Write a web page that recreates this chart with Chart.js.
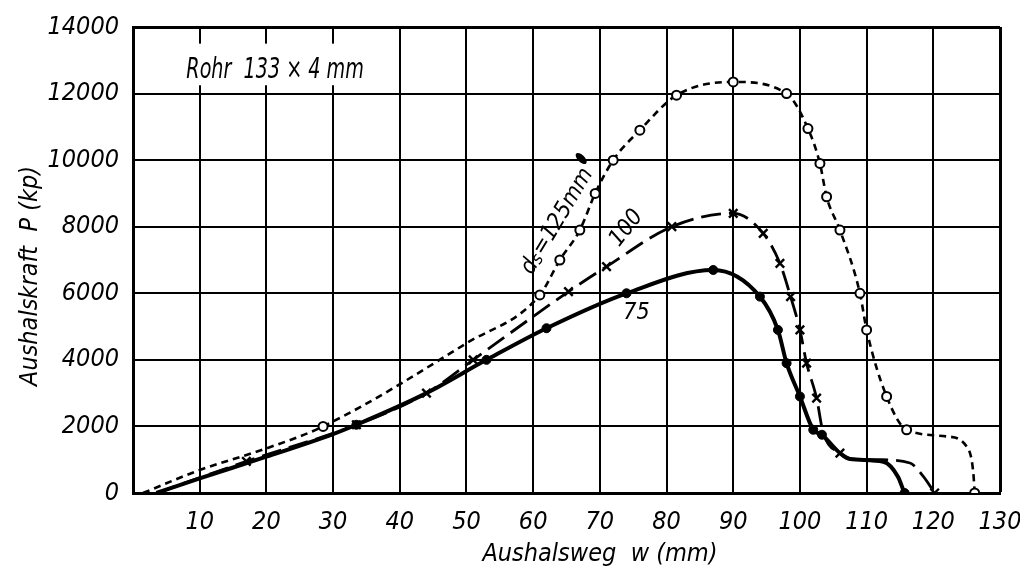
<!DOCTYPE html>
<html>
<head>
<meta charset="utf-8">
<script src="https://cdn.jsdelivr.net/npm/chart.js@4.4.0/dist/chart.umd.min.js"></script>
<style>
    html, body { margin: 0; padding: 0; background: #fff; }
</style>
</head>
<body>
<canvas id="chart" width="1020" height="575"></canvas>
<script>
// Aushalskraft P (kp) over Aushalsweg w (mm)
const w125 = [1.5, 10, 20, 28.5, 50, 61, 64, 67, 69.3, 72, 76, 81.5, 90, 98, 101.2, 103, 104, 106, 109, 110, 113, 116, 122, 125.3, 126, 126.2];
const p125 = [0, 690, 1340, 2000, 4500, 5950, 7000, 7900, 9000, 10000, 10900, 11950, 12350, 12000, 10950, 9900, 8900, 7900, 6000, 4900, 2900, 1900, 1700, 1300, 600, 0];
const m125 = [0, 0, 0, 1, 0, 1, 1, 1, 1, 1, 1, 1, 1, 1, 1, 1, 1, 1, 1, 1, 1, 1, 0, 0, 0, 1];

const w100 = [3.5, 17, 33.5, 44, 51, 65.3, 71, 80.8, 90, 94.5, 97, 98.6, 100, 101, 102.5, 103.5, 106, 108, 112, 116.5, 118.5, 120.2];
const p100 = [0, 950, 2050, 3000, 4000, 6050, 6800, 8000, 8400, 7800, 6900, 5900, 4900, 3900, 2850, 1800, 1200, 1020, 1000, 900, 500, 0];
const m100 = [0, 1, 1, 1, 1, 1, 1, 1, 1, 1, 1, 1, 1, 1, 1, 0, 1, 0, 0, 0, 0, 1];

const w75 = [3.5, 10, 20, 30, 33.5, 44, 53, 62, 74, 87, 94, 96.7, 98, 100, 102, 103.3, 106, 107.5, 112.5, 114.7, 115.5, 115.7];
const p75 = [0, 440, 1090, 1770, 2050, 3000, 4000, 4950, 6000, 6700, 5900, 4900, 3900, 2900, 1900, 1750, 1200, 1020, 940, 490, 90, 0];
const m75 = [0, 0, 0, 0, 1, 0, 1, 1, 1, 1, 1, 1, 1, 1, 1, 1, 0, 0, 0, 0, 0, 1];

const xMax = 130;
const yMax = 14000;

const FONT = "'DejaVu Sans Condensed', 'DejaVu Sans', sans-serif";

function toPoints(ws, ps) {
    return ws.map((w, i) => ({ x: w, y: ps[i] }));
}

// labels written on the drawing itself
const annotations = {
    id: 'annotations',
    afterDraw(chart) {
        const { ctx, scales: { x, y } } = chart;
        ctx.save();

        // Rohr label, white box over the grid
        ctx.fillStyle = '#fff';
        const bx = x.getPixelForValue(7.3);
        const by = y.getPixelForValue(13500);
        ctx.fillRect(bx, by, x.getPixelForValue(34) - bx, y.getPixelForValue(12250) - by);
        ctx.fillStyle = '#000';
        ctx.save();
        ctx.translate(x.getPixelForValue(8), y.getPixelForValue(12480));
        ctx.scale(0.76, 1);
        ctx.font = `italic 28px ${FONT}`;
        ctx.textBaseline = 'alphabetic';
        ctx.textAlign = 'left';
        ctx.fillText('Rohr  133 × 4 mm', 0, 0);
        ctx.restore();

        // d_s = 125 mm, along its curve
        const big = `italic 23px ${FONT}`;
        const small = `italic 17px ${FONT}`;
        ctx.save();
        ctx.translate(x.getPixelForValue(63.6), y.getPixelForValue(8150));
        ctx.rotate(-59 * Math.PI / 180);
        ctx.font = big;
        const wd = ctx.measureText('d').width;
        const wr = ctx.measureText('=125mm').width;
        ctx.font = small;
        const ws = ctx.measureText('s').width;
        let cx = -(wd + ws + wr) / 2;
        ctx.textBaseline = 'middle';
        ctx.font = big;
        ctx.fillText('d', cx, 0);
        cx += wd;
        ctx.font = small;
        ctx.fillText('s', cx, 3);
        cx += ws + 1;
        ctx.font = big;
        ctx.fillText('=125mm', cx, 0);
        ctx.restore();

        // small pointer mark
        ctx.save();
        ctx.translate(x.getPixelForValue(67.2), y.getPixelForValue(10050));
        ctx.rotate(45 * Math.PI / 180);
        ctx.beginPath();
        ctx.ellipse(0, 0, 7, 3.5, 0, 0, Math.PI * 2);
        ctx.fill();
        ctx.restore();

        // 100
        ctx.save();
        ctx.translate(x.getPixelForValue(74), y.getPixelForValue(7950));
        ctx.rotate(-52 * Math.PI / 180);
        ctx.font = big;
        ctx.textAlign = 'center';
        ctx.textBaseline = 'middle';
        ctx.fillText('100', 0, 0);
        ctx.restore();

        // 75
        ctx.font = big;
        ctx.textAlign = 'center';
        ctx.textBaseline = 'middle';
        ctx.fillText('75', x.getPixelForValue(75.5), y.getPixelForValue(5400));

        // axis titles
        ctx.font = `italic 25px ${FONT}`;
        ctx.fillText('Aushalsweg  w (mm)', 600, 554);
        ctx.save();
        ctx.translate(30, 276);
        ctx.rotate(-Math.PI / 2);
        ctx.fillText('Aushalskraft  P (kp)', 0, 0);
        ctx.restore();

        ctx.restore();
    }
};

const ctx = document.getElementById('chart').getContext('2d');
new Chart(ctx, {
    type: 'line',
    data: {
        datasets: [
            {
                label: 'ds = 125 mm',
                data: toPoints(w125, p125),
                borderColor: '#000',
                borderWidth: 2.6,
                borderDash: [7, 5],
                pointStyle: 'circle',
                pointRadius: m125.map(m => m ? 4.5 : 0),
                pointBackgroundColor: '#fff',
                pointBorderColor: '#000',
                pointBorderWidth: 2,
                cubicInterpolationMode: 'monotone'
            },
            {
                label: 'ds = 100 mm',
                data: toPoints(w100, p100),
                borderColor: '#000',
                borderWidth: 2.8,
                borderDash: [20, 8],
                pointStyle: 'crossRot',
                pointRadius: m100.map(m => m ? 6 : 0),
                pointBorderColor: '#000',
                pointBorderWidth: 2.4,
                cubicInterpolationMode: 'monotone'
            },
            {
                label: 'ds = 75 mm',
                data: toPoints(w75, p75),
                borderColor: '#000',
                borderWidth: 4,
                pointStyle: 'circle',
                pointRadius: m75.map(m => m ? 4.5 : 0),
                pointBackgroundColor: '#000',
                pointBorderColor: '#000',
                pointBorderWidth: 1,
                cubicInterpolationMode: 'monotone'
            }
        ]
    },
    options: {
        responsive: false,
        animation: false,
        devicePixelRatio: 1,
        layout: { padding: { left: 0, right: 20, top: 27, bottom: 0 } },
        plugins: {
            legend: { display: false },
            tooltip: { enabled: false }
        },
        scales: {
            x: {
                type: 'linear',
                min: 0,
                max: xMax,
                afterFit(scale) {
                    scale.height = 82;
                    scale.paddingLeft = 0;
                    scale.paddingRight = 0;
                },
                grid: {
                    color: '#000',
                    lineWidth: c => (c.tick && c.tick.value === xMax) ? 3 : 2,
                    drawTicks: false
                },
                border: { display: true, color: '#000', width: 3 },
                ticks: {
                    stepSize: 10,
                    padding: 14,
                    color: '#000',
                    font: { family: FONT, size: 25, style: 'italic' },
                    callback: v => v === 0 ? '' : String(v)
                }
            },
            y: {
                min: 0,
                max: yMax,
                afterFit(scale) {
                    scale.width = 133;
                    scale.paddingTop = 0;
                    scale.paddingBottom = 0;
                },
                grid: {
                    color: '#000',
                    lineWidth: c => (c.tick && c.tick.value === yMax) ? 3 : 2,
                    drawTicks: false
                },
                border: { display: true, color: '#000', width: 3 },
                ticks: {
                    stepSize: 2000,
                    padding: 14,
                    color: '#000',
                    font: { family: FONT, size: 25, style: 'italic' },
                    callback: v => String(v)
                }
            }
        }
    },
    plugins: [annotations]
});
</script>
</body>
</html>
